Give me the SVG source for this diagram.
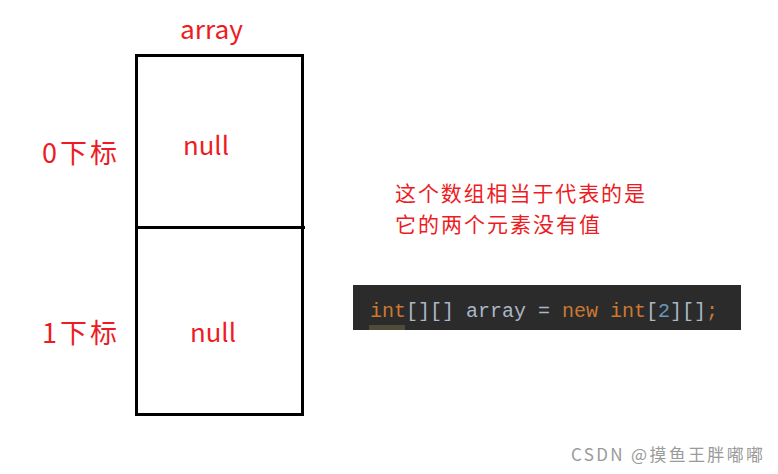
<svg xmlns="http://www.w3.org/2000/svg" width="778" height="474" viewBox="0 0 778 474">
<style>
.lbl{font-family:"Noto Sans CJK SC","Noto Sans",sans-serif;fill:#ed1c24;}
.box{fill:none;stroke:#000;stroke-width:3;}
.code{font-family:"Liberation Mono","DejaVu Sans Mono",monospace;font-size:20px;}
</style>
<rect width="778" height="474" fill="#fff"/>
<text class="lbl" x="180" y="39" font-size="25" textLength="63" lengthAdjust="spacingAndGlyphs">array</text>
<g id="cell0">
<rect class="box" x="136.5" y="55.5" width="166" height="172"/>
<text class="lbl" x="183" y="155" font-size="25" textLength="46" lengthAdjust="spacingAndGlyphs">null</text>
</g>
<g id="cell1">
<path class="box" d="M136.5 227.5 V414.5 H302.5 V227.5"/>
<line x1="136" y1="227.5" x2="305" y2="227.5" stroke="#000" stroke-width="3"/>
<text class="lbl" x="190" y="342" font-size="25" textLength="46" lengthAdjust="spacingAndGlyphs">null</text>
</g>
<text class="lbl" x="42" y="163" font-size="27" textLength="75" lengthAdjust="spacing">0下标</text>
<text class="lbl" x="42" y="343" font-size="27" textLength="75" lengthAdjust="spacing">1下标</text>
<text class="lbl" x="395" y="201" font-size="21" textLength="250" lengthAdjust="spacing">这个数组相当于代表的是</text>
<text class="lbl" x="395" y="232" font-size="21" textLength="205" lengthAdjust="spacing">它的两个元素没有值</text>
<g id="code">
<rect x="353" y="285" width="388" height="45" fill="#2b2b2b"/>
<rect x="369" y="325" width="36" height="5" fill="#4e4b38"/>
<text class="code" x="370" y="317"><tspan fill="#cc7832">int</tspan><tspan fill="#a9b7c6">[][] array = </tspan><tspan fill="#cc7832">new int</tspan><tspan fill="#a9b7c6">[</tspan><tspan fill="#6897bb">2</tspan><tspan fill="#a9b7c6">][]</tspan><tspan fill="#cc7832">;</tspan></text>
</g>
<text x="571" y="461" font-family="'Noto Sans CJK SC','Noto Sans',sans-serif" font-size="17" fill="#9a9a9a" textLength="192" lengthAdjust="spacing">CSDN @摸鱼王胖嘟嘟</text>
</svg>
